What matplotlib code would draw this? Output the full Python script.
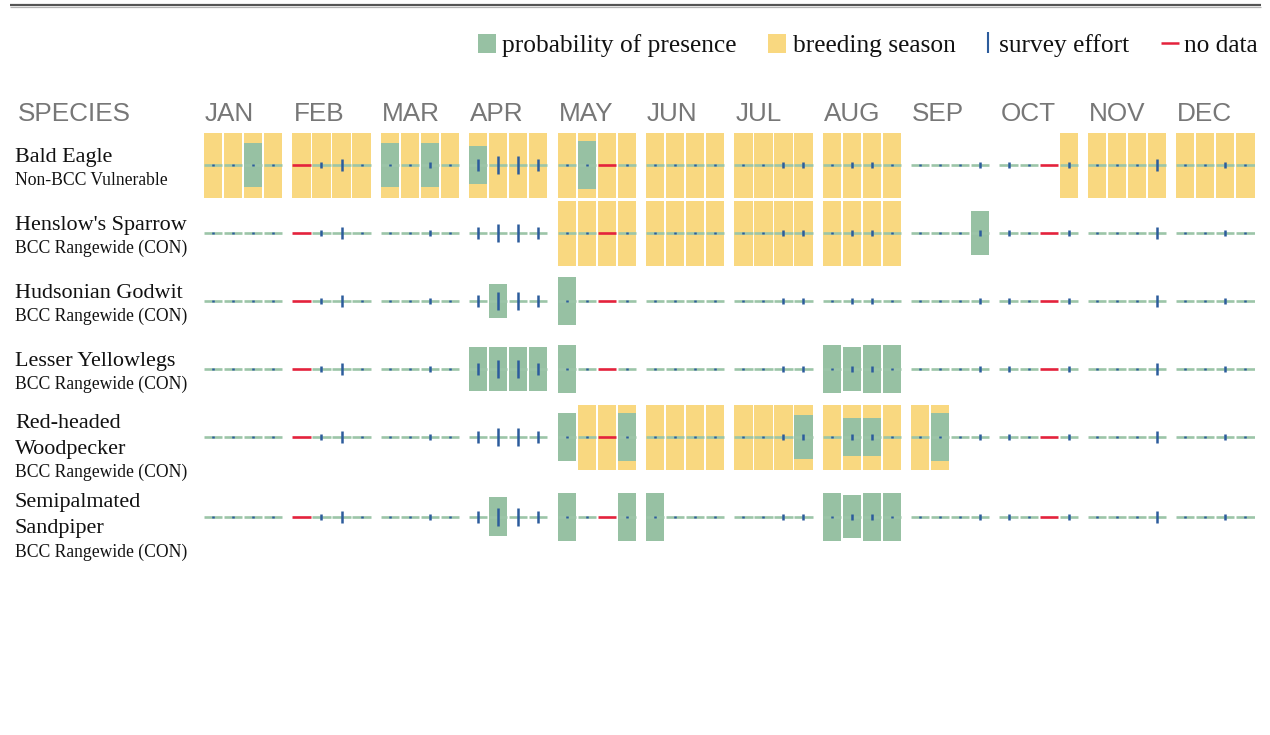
import matplotlib
matplotlib.use("Agg")
import matplotlib.pyplot as plt
import numpy as np
from matplotlib.patches import Rectangle
from matplotlib.transforms import blended_transform_factory

months = ["JAN", "FEB", "MAR", "APR", "MAY", "JUN",
          "JUL", "AUG", "SEP", "OCT", "NOV", "DEC"]

species = ["Bald Eagle", "Henslow's Sparrow", "Hudsonian Godwit",
           "Lesser Yellowlegs", "Red-headed\nWoodpecker",
           "Semipalmated\nSandpiper"]
status = ["Non-BCC Vulnerable", "BCC Rangewide (CON)", "BCC Rangewide (CON)",
          "BCC Rangewide (CON)", "BCC Rangewide (CON)", "BCC Rangewide (CON)"]

# probability of presence per week (0-10), four weeks per month
bald_eagle_presence = [0, 0, 9, 0,  0, 0, 0, 0,  9, 0, 9, 0,  8, 0, 0, 0,
                       0, 10, 0, 0,  0, 0, 0, 0,  0, 0, 0, 0,  0, 0, 0, 0,
                       0, 0, 0, 0,  0, 0, 0, 0,  0, 0, 0, 0,  0, 0, 0, 0]
henslow_presence = [0, 0, 0, 0,  0, 0, 0, 0,  0, 0, 0, 0,  0, 0, 0, 0,
                    0, 0, 0, 0,  0, 0, 0, 0,  0, 0, 0, 0,  0, 0, 0, 0,
                    0, 0, 0, 9,  0, 0, 0, 0,  0, 0, 0, 0,  0, 0, 0, 0]
godwit_presence = [0, 0, 0, 0,  0, 0, 0, 0,  0, 0, 0, 0,  0, 7, 0, 0,
                   10, 0, 0, 0,  0, 0, 0, 0,  0, 0, 0, 0,  0, 0, 0, 0,
                   0, 0, 0, 0,  0, 0, 0, 0,  0, 0, 0, 0,  0, 0, 0, 0]
yellowlegs_presence = [0, 0, 0, 0,  0, 0, 0, 0,  0, 0, 0, 0,  9, 9, 9, 9,
                       10, 0, 0, 0,  0, 0, 0, 0,  0, 0, 0, 0,  10, 9, 10, 10,
                       0, 0, 0, 0,  0, 0, 0, 0,  0, 0, 0, 0,  0, 0, 0, 0]
woodpecker_presence = [0, 0, 0, 0,  0, 0, 0, 0,  0, 0, 0, 0,  0, 0, 0, 0,
                       10, 0, 0, 10,  0, 0, 0, 0,  0, 0, 0, 9,  0, 8, 8, 0,
                       0, 10, 0, 0,  0, 0, 0, 0,  0, 0, 0, 0,  0, 0, 0, 0]
sandpiper_presence = [0, 0, 0, 0,  0, 0, 0, 0,  0, 0, 0, 0,  0, 8, 0, 0,
                      10, 0, 0, 10,  10, 0, 0, 0,  0, 0, 0, 0,  10, 9, 10, 10,
                      0, 0, 0, 0,  0, 0, 0, 0,  0, 0, 0, 0,  0, 0, 0, 0]

# breeding season weeks (1 = breeding)
bald_eagle_breeding = [1, 1, 1, 1,  1, 1, 1, 1,  1, 1, 1, 1,  1, 1, 1, 1,
                       1, 1, 1, 1,  1, 1, 1, 1,  1, 1, 1, 1,  1, 1, 1, 1,
                       0, 0, 0, 0,  0, 0, 0, 1,  1, 1, 1, 1,  1, 1, 1, 1]
henslow_breeding = [0, 0, 0, 0,  0, 0, 0, 0,  0, 0, 0, 0,  0, 0, 0, 0,
                    1, 1, 1, 1,  1, 1, 1, 1,  1, 1, 1, 1,  1, 1, 1, 1,
                    0, 0, 0, 0,  0, 0, 0, 0,  0, 0, 0, 0,  0, 0, 0, 0]
godwit_breeding = [0] * 48
yellowlegs_breeding = [0] * 48
woodpecker_breeding = [0, 0, 0, 0,  0, 0, 0, 0,  0, 0, 0, 0,  0, 0, 0, 0,
                       0, 1, 1, 1,  1, 1, 1, 1,  1, 1, 1, 1,  1, 1, 1, 1,
                       1, 1, 0, 0,  0, 0, 0, 0,  0, 0, 0, 0,  0, 0, 0, 0]
sandpiper_breeding = [0] * 48

# survey effort per week (nan = no data)
nd = np.nan
survey_effort = [1, 1, 1, 1,  nd, 3, 6, 1,  1, 1, 3, 1,  6, 9, 9, 6,
                 1, 1, nd, 1,  1, 1, 1, 1,  1, 1, 3, 3,  1, 3, 3, 1,
                 1, 1, 1, 3,  3, 1, nd, 3,  1, 1, 1, 6,  1, 1, 3, 1]

presence = [bald_eagle_presence, henslow_presence, godwit_presence,
            yellowlegs_presence, woodpecker_presence, sandpiper_presence]
breeding = [bald_eagle_breeding, henslow_breeding, godwit_breeding,
            yellowlegs_breeding, woodpecker_breeding, sandpiper_breeding]

GREEN = "#97c1a3"
YELLOW = "#f9d880"
BLUE = "#2c5c9c"
RED = "#e4223c"
LINE = "#9cc5a8"
GREY = "#777777"

W, H = 1270, 735
fig = plt.figure(figsize=(W / 100, H / 100), dpi=100)

# page layer in pixel units for text and legend
bg = fig.add_axes([0, 0, 1, 1])
bg.set_xlim(0, W)
bg.set_ylim(H, 0)
bg.axis("off")

# week layout: 4 cells per month, months spaced a bit wider
month_step = 4.418
cell_w = 0.91
week_left = np.array([m * month_step + w for m in range(12) for w in range(4)])
week_mid = week_left + cell_w / 2
x_max = week_left[-1] + cell_w

grid_left, grid_right = 204, 1254.5
row_centers = [165, 233, 301, 369, 437, 516.5]
row_h = 68
half = row_h / 2 / 4.8           # presence units (10 -> 48 px)
px = 1 / 4.8                     # one pixel in presence units

effort = np.array(survey_effort, dtype=float)
has_data = ~np.isnan(effort)

row_axes = []
for i, c in enumerate(row_centers):
    ax = fig.add_axes([grid_left / W, 1 - (c + row_h / 2) / H,
                       (grid_right - grid_left) / W, row_h / H])
    ax.set_xlim(0, x_max)
    ax.set_ylim(-half, half)
    ax.axis("off")
    row_axes.append(ax)

    br = np.array(breeding[i]) > 0
    ax.bar(week_left[br], 2 * 32.5 * px, bottom=-32.5 * px, width=cell_w,
           align="edge", color=YELLOW, linewidth=0, zorder=1)

    p = np.array(presence[i], dtype=float)
    on = p > 0
    ax.bar(week_left[on], p[on], bottom=-p[on] / 2, width=cell_w,
           align="edge", color=GREEN, linewidth=0, zorder=2)

    ax.hlines(np.zeros(has_data.sum()), week_left[has_data],
              week_left[has_data] + cell_w, color=LINE, lw=1.9, zorder=3)
    ax.hlines(np.zeros((~has_data).sum()), week_left[~has_data],
              week_left[~has_data] + cell_w, color=RED, lw=1.9, zorder=3)

    e = effort[has_data]
    ax.vlines(week_mid[has_data], -e * px, e * px, color=BLUE, lw=1.8,
              capstyle="butt", zorder=4)

# species labels
for i, c in enumerate(row_centers):
    lines = species[i].split("\n")
    y = c - 3 - 6.5 * (len(lines) - 1)
    for ln in lines:
        bg.text(15, y, ln, fontsize=15.9, family="Liberation Serif",
                color="#111111", va="baseline")
        y += 26.5
    bg.text(15, y - 3.5, status[i], fontsize=12.7, family="Liberation Serif",
            color="#111111", va="baseline")

# column headers
bg.text(18, 120.5, "SPECIES", fontsize=18.8, family="Liberation Sans",
        color=GREY, va="baseline")
hdr = blended_transform_factory(row_axes[0].transData, bg.transData)
for m, name in enumerate(months):
    bg.text(m * month_step + 0.05, 120.5, name, transform=hdr, fontsize=18.8,
            family="Liberation Sans", color=GREY, va="baseline")

# top rule
bg.plot([10, 1261], [5, 5], color="#555555", lw=1.6, solid_capstyle="butt")
bg.plot([10, 1261], [7, 7], color="#b5b5b5", lw=0.9, solid_capstyle="butt")

# legend
leg_font = dict(fontsize=18.3, family="Liberation Serif", color="#111111",
                va="baseline")
bg.add_patch(Rectangle((478, 34), 18, 19, color=GREEN, lw=0))
bg.text(502, 52, "probability of presence", **leg_font)
bg.add_patch(Rectangle((768, 34), 18, 19, color=YELLOW, lw=0))
bg.text(793, 52, "breeding season", **leg_font)
bg.plot([988, 988], [32, 53], color=BLUE, lw=1.5, solid_capstyle="butt")
bg.text(999, 52, "survey effort", **leg_font)
bg.plot([1161, 1179], [43, 43], color=RED, lw=1.8, solid_capstyle="butt")
bg.text(1184, 52, "no data", **leg_font)

fig.savefig("out.png", dpi=100)
